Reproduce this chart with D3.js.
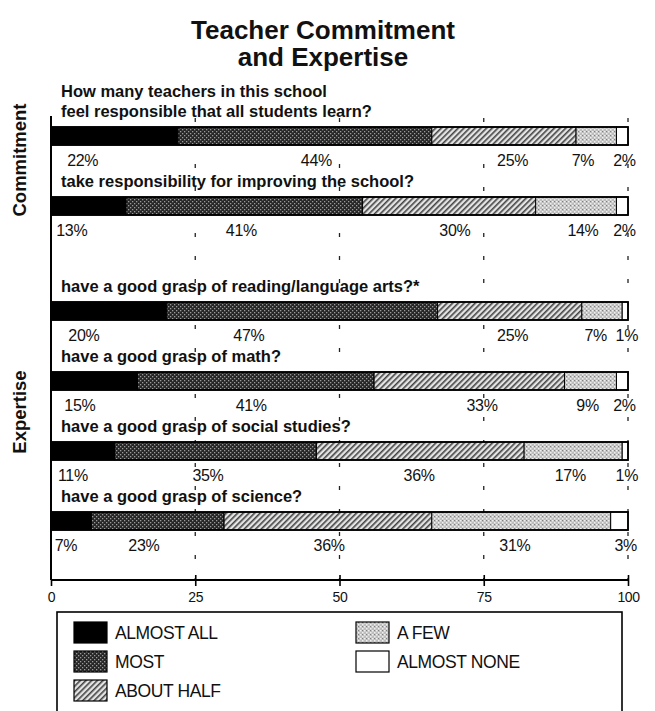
<!DOCTYPE html>
<html>
<head>
<meta charset="utf-8">
<script src="https://cdn.jsdelivr.net/npm/d3@7"></script>
<style>
  html, body { margin: 0; padding: 0; background: #fff; }
  svg { display: block; font-family: "Liberation Sans", Arial, Helvetica, sans-serif; }
</style>
</head>
<body>
<svg id="chart" width="655" height="711"></svg>
<script>
// ---- data ----
const groups = ["Commitment", "Commitment", "Expertise", "Expertise", "Expertise", "Expertise"];
const questions = [
  ["How many teachers in this school", "feel responsible that all students learn?"],
  ["take responsibility for improving the school?"],
  ["have a good grasp of reading/language arts?*"],
  ["have a good grasp of math?"],
  ["have a good grasp of social studies?"],
  ["have a good grasp of science?"]
];
const seriesNames = ["ALMOST ALL", "MOST", "ABOUT HALF", "A FEW", "ALMOST NONE"];
const almostAll  = [22, 13, 20, 15, 11, 7];
const most       = [44, 41, 47, 41, 35, 23];
const aboutHalf  = [25, 30, 25, 33, 36, 36];
const aFew       = [7, 14, 7, 9, 17, 31];
const almostNone = [2, 2, 1, 2, 1, 3];
const axisTicks  = [0, 25, 50, 75, 100];

// where each percentage label sits along the axis (axis units)
const labelAt = [
  [5.5, 46, 80, 92.2, 99.4],
  [3.6, 33, 70, 92.2, 99.4],
  [5.7, 34.3, 80, 94.4, 99.8],
  [5, 34.7, 74.7, 93, 99.4],
  [3.8, 27.2, 63.8, 90, 99.8],
  [2.6, 16.1, 48.2, 80.4, 99.6]
];

const seriesValues = [almostAll, most, aboutHalf, aFew, almostNone];
const rows = questions.map((q, i) => {
  let acc = 0;
  const segs = seriesValues.map((vals, s) => {
    const seg = { s, v: vals[i], x0: acc, x1: acc + vals[i] };
    acc += vals[i];
    return seg;
  });
  return { i, q, group: groups[i], segs };
});

// ---- layout ----
const svg = d3.select("#chart");
const x = d3.scaleLinear().domain([0, 100]).range([51, 628]);
const rowY = d3.scaleLinear().domain([0, 5]).range([127, 477]);
const groupGap = 35;
const barH = 18;
const yOf = i => rowY(i) + (groups[i] === "Expertise" ? groupGap : 0);
const axisY = 580;

// ---- fill patterns ----
const defs = svg.append("defs");
const pMost = defs.append("pattern").attr("id", "pat-most")
  .attr("patternUnits", "userSpaceOnUse").attr("width", 4).attr("height", 4);
pMost.append("rect").attr("width", 4).attr("height", 4).attr("fill", "#262626");
pMost.append("rect").attr("x", 0).attr("y", 0).attr("width", 1.3).attr("height", 1.3).attr("fill", "#9a9a9a");
pMost.append("rect").attr("x", 2).attr("y", 2).attr("width", 1.3).attr("height", 1.3).attr("fill", "#9a9a9a");

const pHalf = defs.append("pattern").attr("id", "pat-half")
  .attr("patternUnits", "userSpaceOnUse").attr("width", 4).attr("height", 4)
  .attr("patternTransform", "rotate(45)");
pHalf.append("rect").attr("width", 4).attr("height", 4).attr("fill", "#e4e4e4");
pHalf.append("rect").attr("x", 0).attr("y", 0).attr("width", 1.6).attr("height", 4).attr("fill", "#444");

const pFew = defs.append("pattern").attr("id", "pat-few")
  .attr("patternUnits", "userSpaceOnUse").attr("width", 4).attr("height", 4);
pFew.append("rect").attr("width", 4).attr("height", 4).attr("fill", "#bdbdbd");
pFew.append("rect").attr("x", 0).attr("y", 0).attr("width", 1.5).attr("height", 1.5).attr("fill", "#f0f0f0");
pFew.append("rect").attr("x", 2).attr("y", 2).attr("width", 1.5).attr("height", 1.5).attr("fill", "#f0f0f0");
pFew.append("rect").attr("x", 2).attr("y", 0).attr("width", 1).attr("height", 1).attr("fill", "#808080");

const fills = ["#000", "url(#pat-most)", "url(#pat-half)", "url(#pat-few)", "#fff"];

// ---- title ----
const title = svg.append("text").attr("text-anchor", "middle")
  .attr("font-weight", "bold").attr("font-size", 26).attr("fill", "#111");
title.append("tspan").attr("x", 323).attr("y", 39).text("Teacher Commitment");
title.append("tspan").attr("x", 323).attr("y", 66).text("and Expertise");

// ---- dashed reference lines ----
svg.append("g").selectAll("line").data(axisTicks.slice(1)).join("line")
  .attr("x1", d => x(d)).attr("x2", d => x(d))
  .attr("y1", 118).attr("y2", axisY)
  .attr("stroke", "#222").attr("stroke-width", 1.3)
  .attr("stroke-dasharray", "4,19");

// ---- left vertical axis line ----
svg.append("line").attr("x1", x(0)).attr("x2", x(0)).attr("y1", 116).attr("y2", axisY)
  .attr("stroke", "#000").attr("stroke-width", 2);

// ---- group labels ----
const groupCenters = { Commitment: 160, Expertise: 412 };
Array.from(new Set(groups)).forEach(g => {
  svg.append("text").attr("transform", `translate(26,${groupCenters[g]}) rotate(-90)`)
    .attr("text-anchor", "middle").attr("font-weight", "bold").attr("font-size", 18.5)
    .attr("fill", "#111").text(g);
});

// ---- rows ----
const rowG = svg.append("g").selectAll("g").data(rows).join("g")
  .attr("transform", d => `translate(0,${yOf(d.i)})`);

// question text
rowG.each(function (d) {
  const g = d3.select(this);
  const lines = d.q;
  lines.forEach((line, k) => {
    g.append("text").attr("x", 61).attr("y", -10 - (lines.length - 1 - k) * 20)
      .attr("font-weight", "bold").attr("font-size", 16.5).attr("fill", "#111")
      .text(line);
  });
});

// bar segments
rowG.selectAll("rect.seg").data(d => d.segs).join("rect")
  .attr("class", "seg")
  .attr("x", d => x(d.x0)).attr("y", 0)
  .attr("width", d => x(d.x1) - x(d.x0)).attr("height", barH)
  .attr("fill", d => fills[d.s])
  .attr("stroke", "#000").attr("stroke-width", 1);

// bar outline
rowG.append("rect").attr("x", x(0)).attr("y", 0)
  .attr("width", x(100) - x(0)).attr("height", barH)
  .attr("fill", "none").attr("stroke", "#000").attr("stroke-width", 1.8);

// percentage labels
rowG.selectAll("text.pct").data(d => d.segs.map(s => ({ ...s, row: d.i }))).join("text")
  .attr("class", "pct")
  .attr("x", d => x(labelAt[d.row][d.s]))
  .attr("y", barH + 21)
  .attr("text-anchor", "middle").attr("font-size", 16).attr("fill", "#111")
  .attr("letter-spacing", -0.3)
  .text(d => d.v + "%");

// ---- bottom axis ----
const axis = d3.axisBottom(x).tickValues(axisTicks).tickSize(6).tickPadding(6)
  .tickFormat(d3.format("d"));
const axG = svg.append("g").attr("transform", `translate(0,${axisY})`).call(axis);
axG.select(".domain").attr("stroke", "#000").attr("stroke-width", 2.2)
  .attr("d", `M${x(0)},0H${x(100)}`);
axG.selectAll(".tick line").attr("stroke", "#000").attr("stroke-width", 1.6)
  .attr("y1", d => d === 0 ? 0 : -5).attr("y2", 6);
axG.selectAll(".tick text").attr("font-family", "'Liberation Sans', Arial, sans-serif")
  .attr("font-size", 14).attr("fill", "#111").attr("letter-spacing", -0.4);

// ---- legend ----
const lg = svg.append("g");
lg.append("rect").attr("x", 57).attr("y", 612).attr("width", 565).attr("height", 110)
  .attr("fill", "none").attr("stroke", "#000").attr("stroke-width", 1.6);
const legendPos = [[74, 622], [74, 651], [74, 680], [356, 622], [356, 651]];
const li = lg.selectAll("g.item").data(seriesNames).join("g").attr("class", "item")
  .attr("transform", (d, i) => `translate(${legendPos[i][0]},${legendPos[i][1]})`);
li.append("rect").attr("width", 33).attr("height", 21)
  .attr("fill", (d, i) => fills[i]).attr("stroke", "#000").attr("stroke-width", 1.2);
li.append("text").attr("x", 41).attr("y", 17)
  .attr("font-size", 17.5).attr("letter-spacing", -0.4).attr("fill", "#111")
  .text(d => d);
</script>
</body>
</html>
